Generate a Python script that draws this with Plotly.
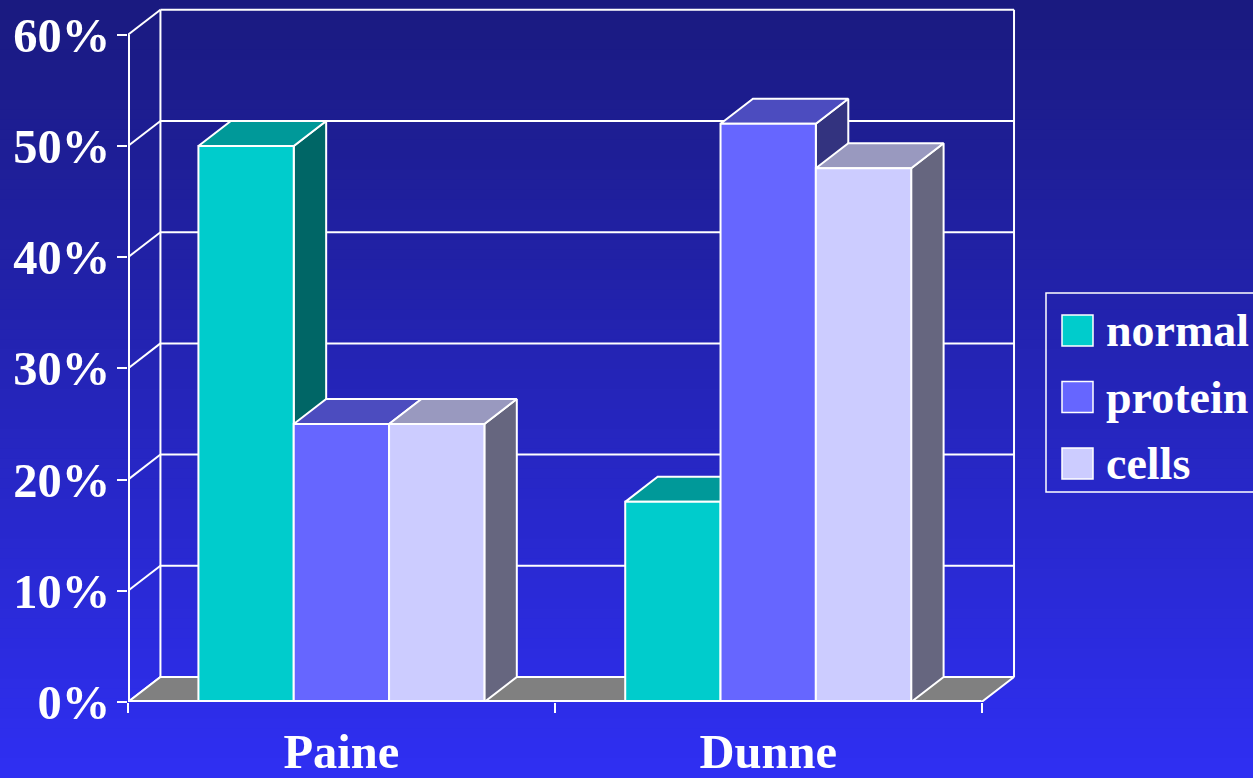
import plotly.graph_objects as go

# ---- data -------------------------------------------------------------
categories = ["Paine", "Dunne"]
series_names = ["normal", "protein", "cells"]
normal = [50, 18]
protein = [25, 52]
cells = [25, 48]
y_ticks = [0, 10, 20, 30, 40, 50, 60]
y_tick_labels = ["0%", "10%", "20%", "30%", "40%", "50%", "60%"]

# ---- style ------------------------------------------------------------
front_colors = ["#00CCCC", "#6666FF", "#CCCCFF"]
top_colors = ["#009999", "#4C4CBF", "#9999BF"]
side_colors = ["#006666", "#33337F", "#66667F"]
floor_color = "#808080"
font_family = "Liberation Serif, Times New Roman, serif"
FS = 48.5          # axis text size
FS_LEGEND = 46     # legend text size

W, H = 1253, 778
ML, MR, MT, MB = 128, 233, 7, 76
X_MAX = 2.09      # x axis in group units (one group per unit)
Y_MAX = 62.5      # y axis in percent
DX, DY = 0.076, 2.25   # depth offset of the 3-D box (x units, percent)
GAP = 0.165            # empty space at each side of a group
BW = (1 - 2 * GAP) / 3  # width of a single bar

PW = W - ML - MR
PH = H - MT - MB


def px2x(px):
    return (px - ML) / PW


def py2y(py):
    return (H - MB - py) / PH


fig = go.Figure()


def poly(xs, ys, fill, width=2):
    fig.add_trace(go.Scatter(
        x=list(xs) + [xs[0]], y=list(ys) + [ys[0]],
        mode="lines", fill="toself", fillcolor=fill,
        line=dict(color="white", width=width),
        hoverinfo="skip", showlegend=False,
    ))


def lines(segments, width=2):
    xs, ys = [], []
    for (xa, ya), (xb, yb) in segments:
        xs += [xa, xb, None]
        ys += [ya, yb, None]
    fig.add_trace(go.Scatter(
        x=xs, y=ys, mode="lines",
        line=dict(color="white", width=width),
        hoverinfo="skip", showlegend=False,
    ))


n_groups = len(categories)
top_v = y_ticks[-1]

# back wall grid, left side wall and right back edge
grid = [((DX, v + DY), (n_groups + DX, v + DY)) for v in y_ticks]
grid += [((0, v), (DX, v + DY)) for v in y_ticks]
grid += [((DX, DY), (DX, top_v + DY)),
         ((n_groups + DX, DY), (n_groups + DX, top_v + DY))]
lines(grid)

# floor
poly([0, n_groups, n_groups + DX, DX], [0, 0, DY, DY], floor_color)

# bars, painted left to right so nearer faces cover hidden ones
values = [normal, protein, cells]
for g in range(n_groups):
    for j, vals in enumerate(values):
        h = vals[g]
        x0 = g + GAP + j * BW
        x1 = x0 + BW
        poly([x1, x1 + DX, x1 + DX, x1], [0, DY, h + DY, h], side_colors[j])
        poly([x0, x1, x1 + DX, x0 + DX], [h, h, h + DY, h + DY], top_colors[j])
        poly([x0, x1, x1, x0], [0, 0, h, h], front_colors[j])

# front value axis and category axis lines
lines([((0, 0), (0, top_v)), ((0, 0), (n_groups, 0))], width=4)

# ---- background gradient ---------------------------------------------
c_top = (26, 26, 128)
c_bot = (47, 47, 242)
n_steps = 78
shapes = []
for i in range(n_steps):
    t = i / (n_steps - 1)
    col = tuple(round(a + (b - a) * t) for a, b in zip(c_top, c_bot))
    py0 = H * i / n_steps
    py1 = H * (i + 1) / n_steps + 1
    shapes.append(dict(
        type="rect", xref="paper", yref="paper", layer="below",
        x0=px2x(-5), x1=px2x(W + 5), y0=py2y(py1), y1=py2y(py0),
        fillcolor="rgb(%d,%d,%d)" % col, line=dict(width=0),
    ))

# ---- legend -----------------------------------------------------------
shapes.append(dict(
    type="rect", xref="paper", yref="paper",
    x0=px2x(1046), x1=px2x(1320), y0=py2y(492), y1=py2y(293),
    line=dict(color="white", width=1.5), fillcolor="rgba(0,0,0,0)",
))
annotations = []
legend_rows = [330.5, 397, 463.5]
for name, col, cy in zip(series_names, front_colors, legend_rows):
    shapes.append(dict(
        type="rect", xref="paper", yref="paper",
        x0=px2x(1062), x1=px2x(1093), y0=py2y(cy + 15.5), y1=py2y(cy - 15.5),
        line=dict(color="white", width=1.5), fillcolor=col,
    ))
    annotations.append(dict(
        xref="paper", yref="paper", x=px2x(1104), y=py2y(cy),
        xanchor="left", yanchor="middle", showarrow=False, text=name,
        font=dict(family=font_family, size=FS_LEGEND, color="white",
                  weight="bold"),
    ))

fig.update_layout(
    width=W, height=H,
    margin=dict(l=ML, r=MR, t=MT, b=MB, pad=0, autoexpand=False),
    paper_bgcolor="#1a1a80", plot_bgcolor="rgba(0,0,0,0)",
    showlegend=False, hovermode=False,
    shapes=shapes, annotations=annotations,
    font=dict(family=font_family, color="white", size=FS, weight="bold"),
    xaxis=dict(
        range=[0, X_MAX], showgrid=False, zeroline=False, showline=False,
        automargin=False,
        tickmode="array",
        tickvals=[g + 0.5 for g in range(n_groups)], ticktext=categories,
        ticks="", ticklabelstandoff=16,
        minor=dict(ticks="outside", tickmode="array",
                   tickvals=list(range(n_groups + 1)),
                   ticklen=10, tickwidth=2, tickcolor="white"),
        tickfont=dict(family=font_family, size=FS, color="white", weight="bold"),
    ),
    yaxis=dict(
        range=[0, Y_MAX], showgrid=False, zeroline=False, showline=False,
        automargin=False,
        tickmode="array", tickvals=y_ticks, ticktext=y_tick_labels,
        ticks="outside", ticklen=10, tickwidth=2, tickcolor="white",
        ticklabelstandoff=-3,
        tickfont=dict(family=font_family, size=FS, color="white", weight="bold"),
    ),
)

fig.write_html("out.html")
